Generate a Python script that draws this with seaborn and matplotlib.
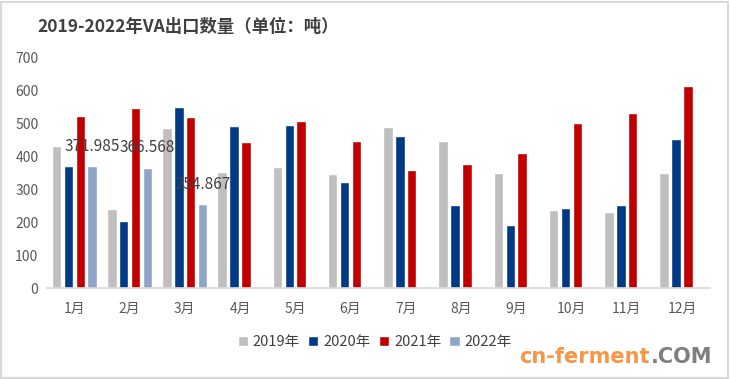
import pandas as pd
import numpy as np
import matplotlib
matplotlib.use("Agg")
import matplotlib.pyplot as plt
from matplotlib.patches import Rectangle
import seaborn as sns

# ---------------------------------------------------------------------------
# data (tonnes)
# ---------------------------------------------------------------------------
months = ['1月', '2月', '3月', '4月', '5月', '6月',
          '7月', '8月', '9月', '10月', '11月', '12月']
years = ['2019年', '2020年', '2021年', '2022年']

v2019 = [433, 241, 488, 354, 369, 348, 491, 448, 351, 238, 232, 351]
v2020 = [372, 205, 552, 494, 497, 323, 463, 253, 193, 244, 253, 454]
v2021 = [524, 549, 521, 445, 509, 448, 360, 378, 412, 503, 533, 616]
v2022 = [371.985, 366.568, 254.867] + [np.nan] * 9

colors = ['#BFBFBF', '#003A85', '#C00000', '#8EA5C8']

df = pd.DataFrame({'month': months * 4,
                   'year': np.repeat(years, len(months)),
                   'value': v2019 + v2020 + v2021 + v2022})

sns.set_theme(style='white')
plt.rcParams['font.family'] = ['Noto Sans CJK SC', 'DejaVu Sans']

fig = plt.figure(figsize=(7.3, 3.79), dpi=100)
ax = fig.add_axes([0.064, 0.240, 0.908, 0.607])

sns.barplot(data=df, x='month', y='value', hue='year', order=months,
            hue_order=years, palette=colors, width=0.86, gap=0.2,
            saturation=1, ax=ax, legend=True)

# data labels on the 2022 bars
for i, v in enumerate(v2022):
    if np.isnan(v):
        continue
    x = i + 0.86 * (3.5 / 4 - 0.5)
    ax.text(x, v + 60, f'{v:.3f}', ha='center', va='center',
            fontsize=11, color='#404040')

ax.set_ylim(0, 700)
ax.set_yticks(range(0, 701, 100))
ax.set_xlim(-0.5, 11.5)
ax.set_xlabel('')
ax.set_ylabel('')
for s in ['top', 'right', 'left']:
    ax.spines[s].set_visible(False)
ax.spines['bottom'].set_color('#D9D9D9')
ax.spines['bottom'].set_linewidth(1.2)
ax.tick_params(axis='both', length=0, labelsize=10, labelcolor='#595959')
ax.tick_params(axis='y', pad=6)
ax.tick_params(axis='x', pad=10)

handles, labels = ax.get_legend_handles_labels()
ax.legend(handles, labels, loc='center', bbox_to_anchor=(0.495, -0.235),
          ncol=4, frameon=False, fontsize=10.5, handlelength=0.7,
          handleheight=0.7, handletextpad=0.35, columnspacing=0.55,
          labelcolor='#404040')

fig.text(0.051, 0.928, '2019-2022年VA出口数量（单位：吨）', fontsize=12.5,
         fontweight='bold', color='#404040', ha='left', va='center')

# site mark bottom-right: place ".COM" right after "cn-ferment"
t1 = fig.text(0.711, 0.058, 'cn-ferment', fontsize=15, fontweight='bold',
              color='#F79646', ha='left', va='center', family='DejaVu Sans')
fig.canvas.draw()
bb = t1.get_window_extent().transformed(fig.transFigure.inverted())
fig.text(bb.x1 + 0.002, 0.058, '.COM', fontsize=15, fontweight='bold',
         color='#7F7F7F', ha='left', va='center', family='DejaVu Sans')

fig.patches.append(Rectangle((0.002, 0.003), 0.995, 0.993,
                             transform=fig.transFigure, fill=False,
                             edgecolor='#D9D9D9', linewidth=1.5))

fig.savefig('out.png', dpi=100)
